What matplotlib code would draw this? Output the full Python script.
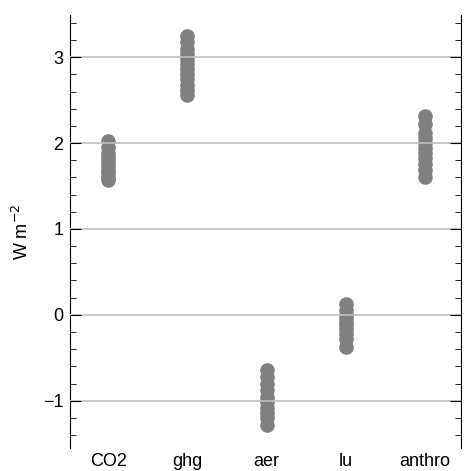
import numpy as np
import matplotlib
matplotlib.use("Agg")
import matplotlib.pyplot as plt
from matplotlib.ticker import MultipleLocator

plt.rcParams['font.family'] = ['Liberation Sans', 'DejaVu Sans']

categories = ["CO2", "ghg", "aer", "lu", "anthro"]
co2 = [2.02, 1.95, 1.88, 1.84, 1.80, 1.76, 1.72, 1.68, 1.65, 1.61, 1.57]
ghg = [3.25, 3.18, 3.10, 3.04, 2.98, 2.92, 2.86, 2.80, 2.74, 2.68, 2.62, 2.56]
aer = [-0.64, -0.72, -0.80, -0.88, -0.96, -1.02, -1.08, -1.14, -1.20, -1.28]
lu = [0.12, 0.06, 0.0, -0.04, -0.08, -0.12, -0.17, -0.22, -0.28, -0.38]
anthro = [2.32, 2.22, 2.12, 2.06, 2.00, 1.94, 1.88, 1.82, 1.76, 1.69, 1.61]
series = [co2, ghg, aer, lu, anthro]

fig = plt.figure(figsize=(4.65, 4.71), dpi=100)
ax = fig.add_axes([0.151, 0.049, 0.840, 0.919])

for i, vals in enumerate(series):
    ax.plot([i] * len(vals), vals, 'o', color='#808080', markersize=10.5,
            markeredgewidth=0, zorder=1)

ax.set_xlim(-0.48, 4.45)
ax.set_ylim(-1.55, 3.49)
ax.set_xticks(range(len(categories)))
ax.set_xticklabels(categories, fontsize=13)
ax.yaxis.set_major_locator(MultipleLocator(1))
ax.yaxis.set_minor_locator(MultipleLocator(0.2))
ax.grid(axis='y', color='#c0c0c0', linewidth=1.2, zorder=2)
ax.set_axisbelow(False)

for s in ['top', 'bottom']:
    ax.spines[s].set_visible(False)
ax.tick_params(axis='x', length=0, pad=4)
ax.tick_params(axis='y', which='both', direction='in', left=True, right=True,
               labelsize=13, pad=5)
ax.tick_params(axis='y', which='major', length=8)
ax.tick_params(axis='y', which='minor', length=4)
ax.set_ylabel("W m$^{-2}$", fontsize=13, labelpad=8)

fig.savefig("out.png", dpi=100)
